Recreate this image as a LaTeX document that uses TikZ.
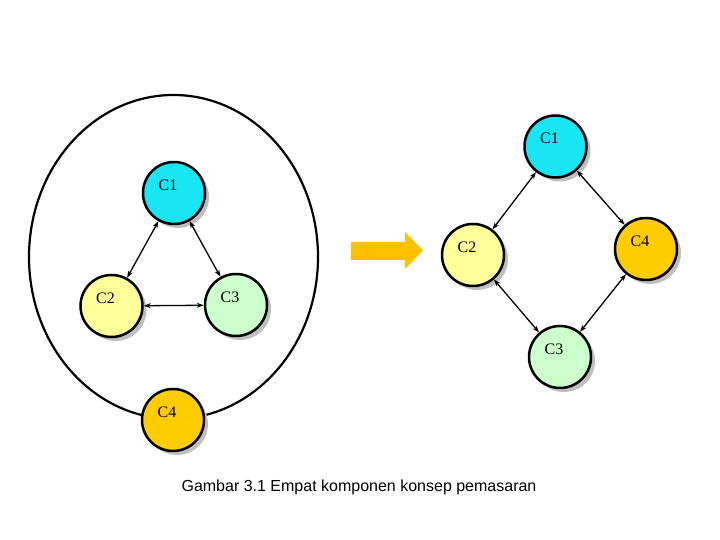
\documentclass[tikz,border=0pt]{standalone}
\usepackage{fontspec}
\setmainfont{Liberation Serif}
\newfontfamily\capfont{Liberation Sans}
\usetikzlibrary{arrows.meta,shadows}
\definecolor{compA}{RGB}{25,230,245}
\definecolor{compB}{RGB}{255,255,153}
\definecolor{compC}{RGB}{204,255,204}
\definecolor{compD}{RGB}{255,204,0}
\definecolor{shiftarrow}{RGB}{255,192,0}
\tikzset{
  comp/.style={circle, draw=black, line width=2.5pt, fill=#1, minimum size=62pt, inner sep=0pt,
    drop shadow={shadow xshift=4pt, shadow yshift=-4pt, fill=black!25, opacity=1}},
  ctext/.style={label={[font=\fontsize{16}{16}\selectfont, xshift=-6pt, yshift=8pt]center:#1}},
  link/.style={{Stealth[length=7pt,width=5pt]}-{Stealth[length=7pt,width=5pt]}, line width=1.3pt}
}
\begin{document}
\begin{tikzpicture}[x=1pt,y=1pt]
    \useasboundingbox (0,0) rectangle (720,540);
    % left: C4 wraps round the other three
    \draw[line width=2.2pt] (173.5,283) ellipse [x radius=144.5, y radius=162];
    \node[comp=compA, ctext=C1] (la) at (174,347) {};
    \node[comp=compB, ctext=C2] (lb) at (111.5,234) {};
    \node[comp=compC, ctext=C3] (lc) at (236,235) {};
    \node[comp=compD, ctext=C4] (ld) at (173,120) {};
    \foreach \from/\to in {la/lb, la/lc, lb/lc}
    \draw[link] (\from) -- (\to);
    % arrow
    \fill[shiftarrow] (351,280) -- (405,280) -- (405,271) -- (423,289.5) -- (405,308) -- (405,298) -- (351,298) -- cycle;
    % right: ring of four
    \node[comp=compA, ctext=C1] (ra) at (555.5,393.5) {};
    \node[comp=compB, ctext=C2] (rb) at (473,285) {};
    \node[comp=compD, ctext=C4] (rd) at (646,291) {};
    \node[comp=compC, ctext=C3] (rc) at (560,183) {};
    \foreach \from/\to in {ra/rb, ra/rd, rb/rc, rd/rc}
    \draw[link] (\from) -- (\to);
    \node[font=\capfont\fontsize{16}{16}\selectfont] (cap) at (359,53) {Gambar 3.1 Empat komponen konsep pemasaran};
  \end{tikzpicture}
\end{document}
